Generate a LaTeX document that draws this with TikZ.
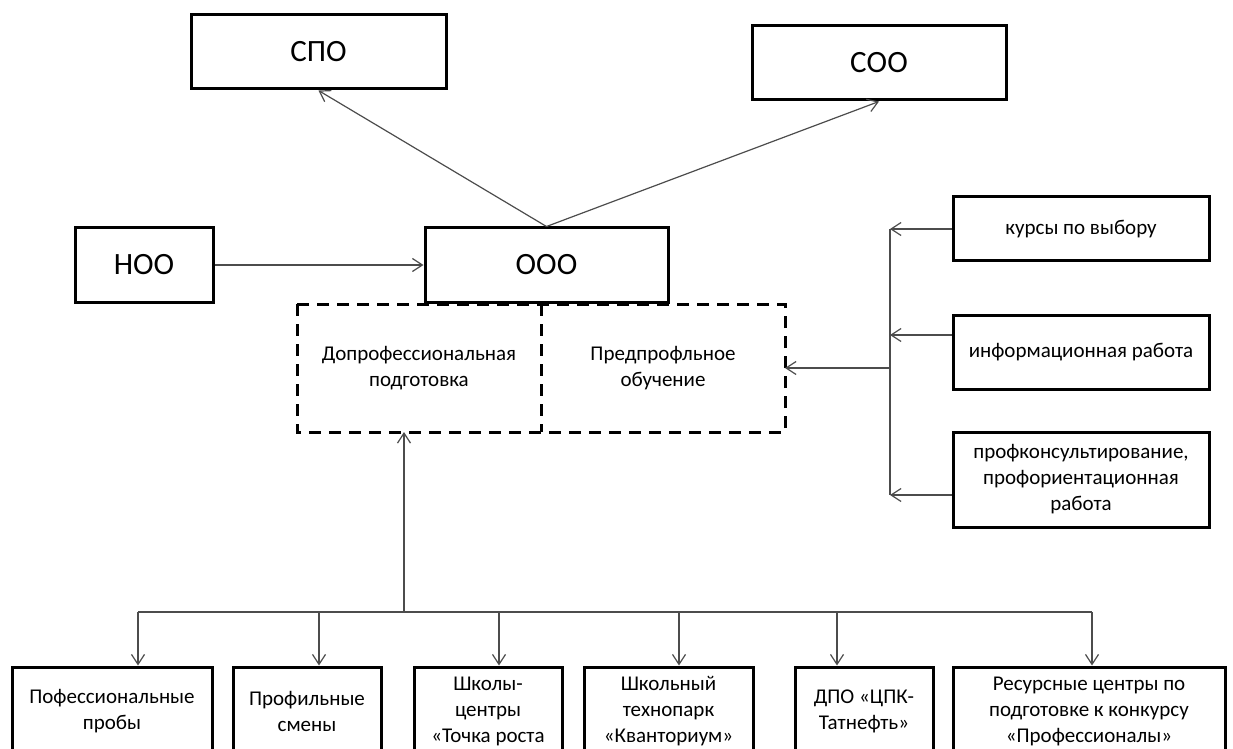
\documentclass[tikz,border=0pt]{standalone}
\usepackage{fontspec}
\setmainfont{Carlito}
\usetikzlibrary{arrows.meta,calc}
\tikzset{lvl/.style={draw, line width=1.5pt, inner sep=0pt, minimum height=37pt, font=\fontsize{15.5}{18}\selectfont}}
\tikzset{blk/.style={draw, line width=1.5pt, inner sep=0pt, align=center, font=\fontsize{10.5}{13}\selectfont}}
\tikzset{half/.style={blk, draw=none, outer sep=0pt, minimum width=122pt, minimum height=64pt}}
\tikzset{dashbox/.style={line width=1.5pt, dash pattern=on 6pt off 4pt}}
\tikzset{low/.style={blk, minimum height=44pt}}
\tikzset{conn/.style={draw=black!70, line width=0.6pt}}
\tikzset{arr/.style={conn, -{Straight Barb[length=5pt,width=6.5pt]}}}

\begin{document}
\begin{tikzpicture}[x=0.5pt, y=-0.5pt]
\useasboundingbox (0,0) rectangle (1233,749);
\clip (0,0) rectangle (1233,749);
\node (spo) at (318.5,52) [lvl, minimum width=127.5pt] {СПО};
\node (soo) at (879,63) [lvl, minimum width=127pt] {СОО};
\node (noo) at (144,265) [lvl, minimum width=69pt] {НОО};
\node (ooo) at (546.5,265) [lvl, minimum width=121.5pt] {ООО};
\node (dop) at (419,368) [half] {Допрофессиональная\\подготовка};
\node (pred) at (663,368) [half] {Предпрофльное\\обучение};
\draw[dashbox] (dop.north west) rectangle (pred.south east);
\draw[dashbox] (dop.north east) -- (dop.south east);
\node (kurs) at (1081,229) [blk, minimum width=128pt, minimum height=32pt] {курсы по выбору};
\node (info) at (1081,352) [blk, minimum width=128pt, minimum height=37pt] {информационная работа};
\node (konsult) at (1081,479.5) [blk, minimum width=128pt, minimum height=47.5pt] {профконсультирование,\\профориентационная\\работа};
\node (proby) at (112,711) [low, minimum width=100pt] {Пофессиональные\\пробы};
\node (smeny) at (307,711) [low, minimum width=74pt] {Профильные\\смены};
\node (tochka) at (488,711) [low, minimum width=74pt] {Школы-\\центры\\«Точка роста};
\node (kvant) at (668.5,711) [low, minimum width=84.5pt] {Школьный\\технопарк\\«Кванториум»};
\node (dpo) at (864,711) [low, minimum width=69pt] {ДПО «ЦПК-\\Татнефть»};
\node (resurs) at (1089,711) [low, minimum width=136pt] {Ресурсные центры по\\подготовке к конкурсу\\«Профессионалы»};
\coordinate (rail) at (890,368);
\coordinate (bus) at (404,612);
\draw[arr] (noo) -- (ooo);
\draw[arr] (ooo.north) -- (spo.south);
\draw[arr] (ooo.north) -- (soo.south);
\draw[arr] (kurs.west) -- (kurs.west -| rail);
\draw[arr] ($(info.west)+(0,-17)$) -- ($(info.west -| rail)+(0,-17)$);
\draw[arr] ($(konsult.west)+(0,15.5)$) -- ($(konsult.west -| rail)+(0,15.5)$);
\draw[conn] (kurs.west -| rail) -- ($(konsult.west -| rail)+(0,15.5)$);
\draw[arr] (rail) -- (pred.east);
\draw[arr] (bus) -- (bus |- dop.south);
\draw[conn] ($(proby.north |- bus)+(26,0)$) -- ($(resurs.north |- bus)+(3,0)$);
\foreach \n/\dx in {proby/26,smeny/12,tochka/11,kvant/10.5,dpo/-27,resurs/3}
  \draw[arr] ($(\n.north |- bus)+(\dx,0)$) -- ($(\n.north)+(\dx,0)$);
\end{tikzpicture}
\end{document}
